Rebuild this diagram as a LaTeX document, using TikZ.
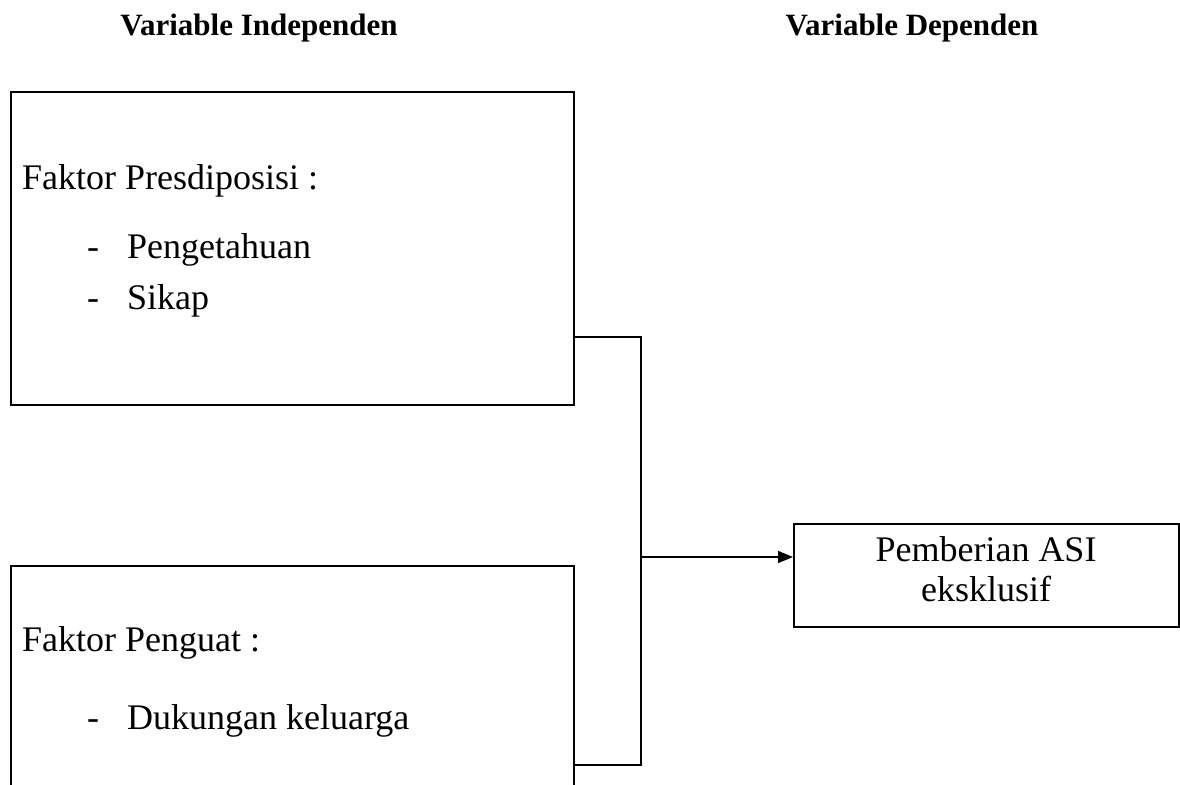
\documentclass[tikz,border=0pt]{standalone}
\usepackage{fontspec}
\setmainfont{Liberation Serif}
\usepackage{tikz}
\usetikzlibrary{arrows,arrows.meta}
\usetikzlibrary{positioning}

\tikzset{
  box/.style={draw,line width=1.8pt,inner sep=0pt,anchor=north west},
  head/.style={font=\bfseries\fontsize{31}{36}\selectfont},
  txt/.style={font=\fontsize{36}{40}\selectfont,anchor=west,inner sep=0pt},
  link/.style={line width=1.5pt}
}

\begin{document}
\begin{tikzpicture}[x=1pt,y=-1pt]
  \clip (0,0) rectangle (1180,784);
  \useasboundingbox (0,0) rectangle (1180,784);
  % headings
  \node[head] (hind) at (259,28) {Variable Independen};
  \node[head] (hdep) at (912,28) {Variable Dependen};
  % boxes
  \node[box,minimum width=563pt,minimum height=313pt] (pre) at (10,91) {};
  \node[box,minimum width=563pt,minimum height=260pt] (pen) at (10,565) {};
  \node[box,minimum width=385pt,minimum height=103pt] (asi) at (793,523) {};
  % texts
  \node[txt] (tpre) at (22,181) {Faktor Presdiposisi :};
  \node[txt] (p1) at (87,250) {-\hspace{28pt}Pengetahuan};
  \node[txt] (p2) at (87,301) {-\hspace{28pt}Sikap};
  \node[txt] (tpen) at (22,643) {Faktor Penguat :};
  \node[txt] (q1) at (87,721) {-\hspace{28pt}Dukungan keluarga};
  \node[font=\fontsize{36}{40}\selectfont,align=center] (tasi) at (986,569) {Pemberian ASI\\eksklusif};
  % connectors
  \coordinate (j) at (641,557);
  \coordinate (a) at (573,337);
  \coordinate (b) at (573,765);
  \draw[link] (a) -- (j |- a) -- (j |- b) -- (b);
  \draw[link,-{Triangle[length=15pt,width=12pt]}] (j) -- (asi.west |- j);
\end{tikzpicture}
\end{document}
